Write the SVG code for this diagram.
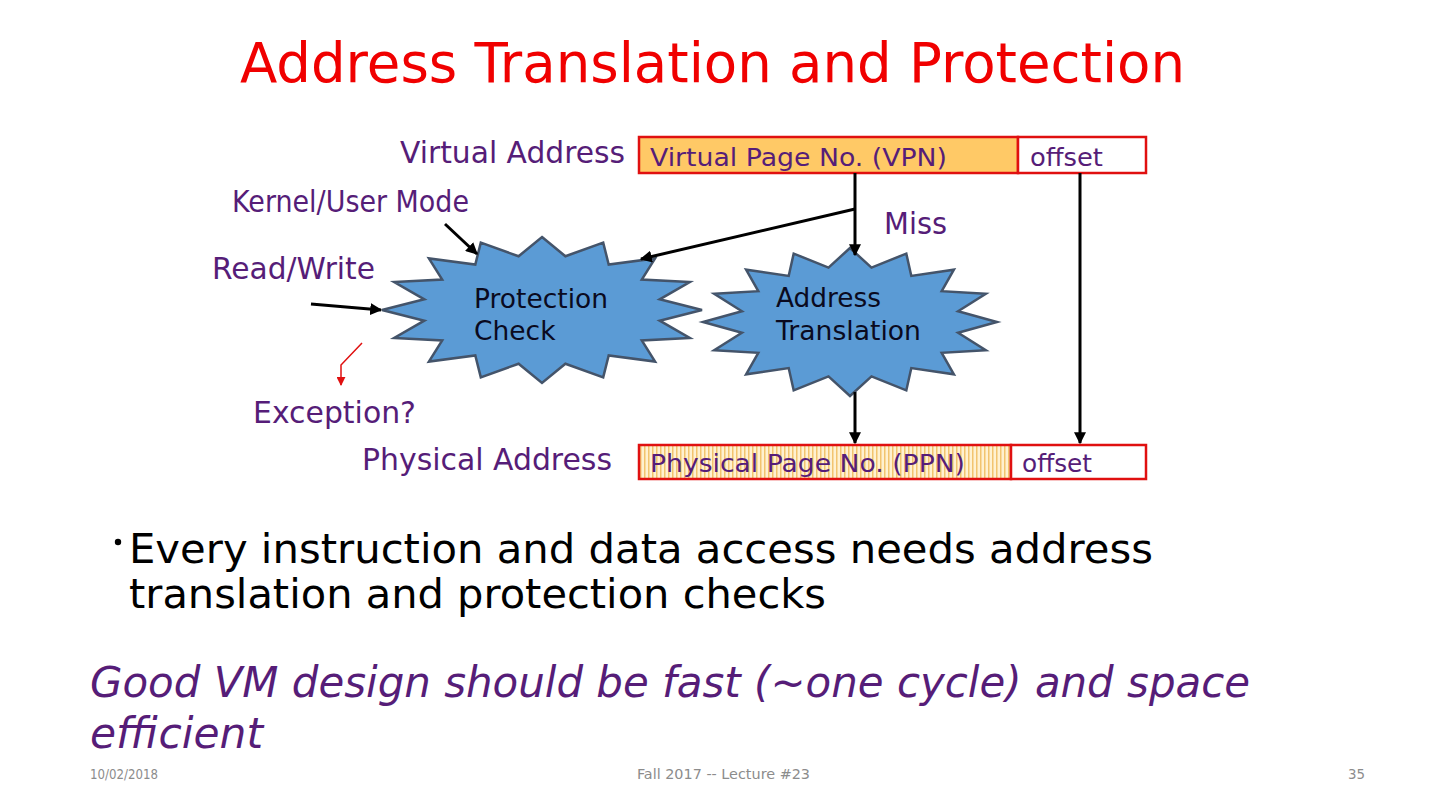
<svg xmlns="http://www.w3.org/2000/svg" width="1440" height="810" viewBox="0 0 1440 810">
<style>
.lbl{font-family:"DejaVu Sans",Verdana,sans-serif;fill:#561D78;font-size:30px}
.bt{font-family:"DejaVu Sans",Verdana,sans-serif;fill:#561D78;font-size:24.5px}
.box{stroke:#E01010;stroke-width:2.5}
.star{fill:#5B9BD5;stroke:#44546A;stroke-width:2.5;stroke-linejoin:miter}
.st{font-family:"DejaVu Sans",Verdana,sans-serif;fill:#0A0A20;font-size:26.5px}
.conn{stroke:#000;stroke-width:3;fill:none}
.foot{font-family:"DejaVu Sans Condensed","Liberation Sans",sans-serif;fill:#8C8C8C;font-size:14px}
.body{font-family:"DejaVu Sans",Verdana,sans-serif;font-size:41px;fill:#000}
.ital{font-family:"DejaVu Sans",Verdana,sans-serif;font-size:42px;font-style:italic;fill:#561D78}
</style>
<defs>
<marker id="ah" viewBox="0 0 10 10" refX="9" refY="5" markerWidth="4" markerHeight="4" orient="auto"><path d="M0,0 L10,5 L0,10 z" fill="#000"/></marker>
<marker id="ahr" viewBox="0 0 10 10" refX="9" refY="5" markerWidth="6" markerHeight="6" orient="auto"><path d="M0,0 L10,5 L0,10 z" fill="#E01010"/></marker>
<pattern id="hatch" width="4" height="4" patternUnits="userSpaceOnUse"><rect width="4" height="4" fill="#FFF1D0"/><rect width="1.5" height="4" fill="#F2C46E"/></pattern>
</defs>
<rect width="1440" height="810" fill="#fff"/>
<text x="240" y="82" font-family="DejaVu Sans,Verdana,sans-serif" font-size="55" fill="#F00000" textLength="945" lengthAdjust="spacingAndGlyphs">Address Translation and Protection</text>

<g id="vaddr">
<text class="lbl" x="400" y="163" textLength="225" lengthAdjust="spacingAndGlyphs">Virtual Address</text>
<rect class="box" x="639" y="137" width="379" height="36" fill="#FFC966"/>
<rect class="box" x="1018" y="137" width="128" height="36" fill="#fff"/>
<text class="bt" x="650" y="166" textLength="297" lengthAdjust="spacingAndGlyphs">Virtual Page No. (VPN)</text>
<text class="bt" x="1030" y="166" textLength="73" lengthAdjust="spacingAndGlyphs">offset</text>
</g>

<g id="paddr">
<text class="lbl" x="362" y="470" textLength="250" lengthAdjust="spacingAndGlyphs">Physical Address</text>
<rect class="box" x="639" y="445" width="372" height="34" fill="url(#hatch)"/>
<rect class="box" x="1011" y="445" width="135" height="34" fill="#fff"/>
<text class="bt" x="650" y="472" textLength="315" lengthAdjust="spacingAndGlyphs">Physical Page No. (PPN)</text>
<text class="bt" x="1022" y="472" textLength="70" lengthAdjust="spacingAndGlyphs">offset</text>
</g>

<g id="protection">
<polygon class="star" points="542,237 565.4,256.3 603.2,242.6 608.7,264.5 655.1,258.4 641.8,279.6 689.8,282.1 659.7,299.3 702,310 659.7,320.7 689.8,337.9 641.8,340.4 655.1,361.6 608.7,355.5 603.2,377.4 565.4,363.7 542,383 518.6,363.7 480.8,377.4 475.3,355.5 428.9,361.6 442.2,340.4 394.2,337.9 424.3,320.7 382,310 424.3,299.3 394.2,282.1 442.2,279.6 428.9,258.4 475.3,264.5 480.8,242.6 518.6,256.3"/>
<text class="st" x="474" y="308" textLength="134" lengthAdjust="spacingAndGlyphs">Protection</text>
<text class="st" x="474" y="340">Check</text>
</g>

<g id="translation">
<polygon class="star" points="850,248 871.5,267.6 906.3,253.6 911.3,275.9 953.9,269.7 941.7,291.2 985.8,293.7 958.1,311.2 997,322 958.1,332.8 985.8,350.3 941.7,352.8 953.9,374.3 911.3,368.1 906.3,390.4 871.5,376.4 850,396 828.5,376.4 793.7,390.4 788.7,368.1 746.1,374.3 758.3,352.8 714.2,350.3 741.9,332.8 703,322 741.9,311.2 714.2,293.7 758.3,291.2 746.1,269.7 788.7,275.9 793.7,253.6 828.5,267.6"/>
<text class="st" x="776" y="307" textLength="105" lengthAdjust="spacingAndGlyphs">Address</text>
<text class="st" x="776" y="340" textLength="145" lengthAdjust="spacingAndGlyphs">Translation</text>
</g>

<g id="labels">
<text class="lbl" x="232" y="212" font-size="24.5" textLength="237" lengthAdjust="spacingAndGlyphs">Kernel/User Mode</text>
<text class="lbl" x="884" y="234" textLength="63" lengthAdjust="spacingAndGlyphs">Miss</text>
<text class="lbl" x="212" y="279" textLength="163" lengthAdjust="spacingAndGlyphs">Read/Write</text>
<text class="lbl" x="253" y="423" textLength="163" lengthAdjust="spacingAndGlyphs">Exception?</text>
</g>

<g id="connectors">
<line class="conn" x1="855" y1="173" x2="855" y2="255" marker-end="url(#ah)"/>
<line class="conn" x1="855" y1="209" x2="641" y2="259" marker-end="url(#ah)"/>
<line class="conn" x1="1080" y1="173" x2="1080" y2="443" marker-end="url(#ah)"/>
<line class="conn" x1="855" y1="392" x2="855" y2="443" marker-end="url(#ah)"/>
<line class="conn" x1="445" y1="224" x2="477" y2="254" marker-end="url(#ah)"/>
<line class="conn" x1="311" y1="304" x2="381" y2="310" marker-end="url(#ah)"/>
<polyline points="362,343 341,365 341,385" fill="none" stroke="#E01010" stroke-width="1.5" marker-end="url(#ahr)"/>
</g>

<g id="body">
<circle cx="118" cy="542" r="3.2" fill="#000"/>
<text class="body" x="129" y="563" textLength="1024" lengthAdjust="spacingAndGlyphs">Every instruction and data access needs address</text>
<text class="body" x="129" y="608" textLength="697" lengthAdjust="spacingAndGlyphs">translation and protection checks</text>
<text class="ital" x="90" y="697" textLength="1160" lengthAdjust="spacingAndGlyphs">Good VM design should be fast (~one cycle) and space</text>
<text class="ital" x="90" y="748" textLength="173" lengthAdjust="spacingAndGlyphs">efficient</text>
</g>

<g id="footer">
<text class="foot" x="90" y="779" textLength="68" lengthAdjust="spacingAndGlyphs">10/02/2018</text>
<text class="foot" x="637" y="779" textLength="173" lengthAdjust="spacingAndGlyphs">Fall 2017 -- Lecture #23</text>
<text class="foot" x="1348" y="779" textLength="17" lengthAdjust="spacingAndGlyphs">35</text>
</g>
</svg>
